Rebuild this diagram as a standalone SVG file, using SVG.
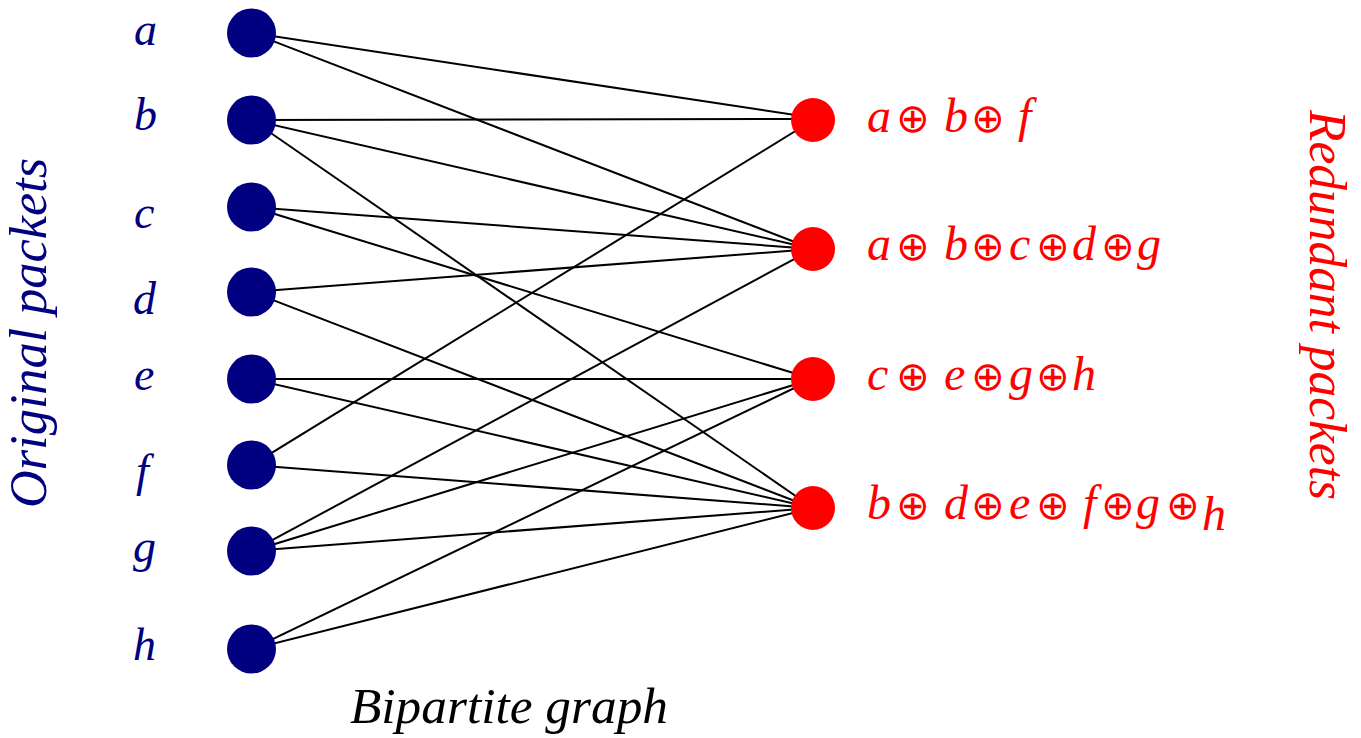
<svg xmlns="http://www.w3.org/2000/svg" width="1361" height="738" viewBox="0 0 1361 738">
<style>
.ln line{stroke:#000;stroke-width:2}
.orig{fill:#000080}
.red{fill:#ff0000}
</style>
<rect width="1361" height="738" fill="#fff"/>
<g id="connectors" class="ln">
<line x1="252" y1="33" x2="822" y2="119"/>
<line x1="252" y1="33" x2="813" y2="249"/>
<line x1="252" y1="120" x2="822" y2="119"/>
<line x1="252" y1="120" x2="813" y2="249"/>
<line x1="252" y1="120" x2="813" y2="508"/>
<line x1="252" y1="207" x2="813" y2="249"/>
<line x1="252" y1="207" x2="813" y2="379"/>
<line x1="252" y1="292" x2="813" y2="249"/>
<line x1="252" y1="292" x2="813" y2="508"/>
<line x1="252" y1="379" x2="813" y2="379"/>
<line x1="252" y1="379" x2="813" y2="508"/>
<line x1="252" y1="465" x2="815" y2="119"/>
<line x1="252" y1="465" x2="813" y2="508"/>
<line x1="252" y1="551" x2="813" y2="249"/>
<line x1="252" y1="551" x2="813" y2="379"/>
<line x1="252" y1="551" x2="813" y2="508"/>
<line x1="252" y1="649" x2="813" y2="379"/>
<line x1="252" y1="649" x2="813" y2="508"/>
</g>
<g id="node-a"><circle class="orig" cx="251.5" cy="33" r="24.5"/><text font-family="Liberation Serif" font-style="italic" font-size="46" fill="#000080" x="134" y="45">a</text></g>
<g id="node-b"><circle class="orig" cx="251.5" cy="120" r="24.5"/><text font-family="Liberation Serif" font-style="italic" font-size="46" fill="#000080" x="134" y="130">b</text></g>
<g id="node-c"><circle class="orig" cx="251.5" cy="207" r="24.5"/><text font-family="Liberation Serif" font-style="italic" font-size="46" fill="#000080" x="134" y="228">c</text></g>
<g id="node-d"><circle class="orig" cx="251.5" cy="292" r="24.5"/><text font-family="Liberation Serif" font-style="italic" font-size="46" fill="#000080" x="133" y="314">d</text></g>
<g id="node-e"><circle class="orig" cx="251.5" cy="379" r="24.5"/><text font-family="Liberation Serif" font-style="italic" font-size="46" fill="#000080" x="134" y="390">e</text></g>
<g id="node-f"><circle class="orig" cx="251.5" cy="465" r="24.5"/><text font-family="Liberation Serif" font-style="italic" font-size="46" fill="#000080" x="136" y="486">f</text></g>
<g id="node-g"><circle class="orig" cx="251.5" cy="551" r="24.5"/><text font-family="Liberation Serif" font-style="italic" font-size="46" fill="#000080" x="133" y="562">g</text></g>
<g id="node-h"><circle class="orig" cx="251.5" cy="649" r="24.5"/><text font-family="Liberation Serif" font-style="italic" font-size="46" fill="#000080" x="133" y="660">h</text></g>
<g id="node-r1"><circle class="red" cx="813" cy="120" r="22"/>
<text font-family="Liberation Serif" font-style="italic" font-size="48" fill="#ff0000" y="132"><tspan x="867">a</tspan><tspan x="896" font-family="DejaVu Sans" font-style="normal" font-size="40">⊕</tspan><tspan x="944">b</tspan><tspan x="971" font-family="DejaVu Sans" font-style="normal" font-size="40">⊕</tspan><tspan x="1018">f</tspan></text></g>
<g id="node-r2"><circle class="red" cx="813" cy="249" r="22"/>
<text font-family="Liberation Serif" font-style="italic" font-size="48" fill="#ff0000" y="260"><tspan x="867">a</tspan><tspan x="896" font-family="DejaVu Sans" font-style="normal" font-size="40">⊕</tspan><tspan x="944">b</tspan><tspan x="971" font-family="DejaVu Sans" font-style="normal" font-size="40">⊕</tspan><tspan x="1009">c</tspan><tspan x="1036" font-family="DejaVu Sans" font-style="normal" font-size="40">⊕</tspan><tspan x="1072">d</tspan><tspan x="1101" font-family="DejaVu Sans" font-style="normal" font-size="40">⊕</tspan><tspan x="1137">g</tspan></text></g>
<g id="node-r3"><circle class="red" cx="813" cy="379" r="22"/>
<text font-family="Liberation Serif" font-style="italic" font-size="48" fill="#ff0000" y="390"><tspan x="867">c</tspan><tspan x="896" font-family="DejaVu Sans" font-style="normal" font-size="40">⊕</tspan><tspan x="944">e</tspan><tspan x="971" font-family="DejaVu Sans" font-style="normal" font-size="40">⊕</tspan><tspan x="1009">g</tspan><tspan x="1036" font-family="DejaVu Sans" font-style="normal" font-size="40">⊕</tspan><tspan x="1072">h</tspan></text></g>
<g id="node-r4"><circle class="red" cx="813" cy="508" r="22"/>
<text font-family="Liberation Serif" font-style="italic" font-size="48" fill="#ff0000" y="519"><tspan x="867">b</tspan><tspan x="896" font-family="DejaVu Sans" font-style="normal" font-size="40">⊕</tspan><tspan x="944">d</tspan><tspan x="971" font-family="DejaVu Sans" font-style="normal" font-size="40">⊕</tspan><tspan x="1009">e</tspan><tspan x="1036" font-family="DejaVu Sans" font-style="normal" font-size="40">⊕</tspan><tspan x="1083">f</tspan><tspan x="1101" font-family="DejaVu Sans" font-style="normal" font-size="40">⊕</tspan><tspan x="1136">g</tspan><tspan x="1166" font-family="DejaVu Sans" font-style="normal" font-size="40">⊕</tspan><tspan x="1202" y="530">h</tspan></text></g>
<text font-family="Liberation Serif" font-style="italic" font-size="52" fill="#000080" transform="translate(46,508) rotate(-90)" textLength="350" lengthAdjust="spacingAndGlyphs">Original packets</text>
<text font-family="Liberation Serif" font-style="italic" font-size="52" fill="#ff0000" transform="translate(1310,110) rotate(90)" textLength="390" lengthAdjust="spacingAndGlyphs">Redundant packets</text>
<text font-family="Liberation Serif" font-style="italic" font-size="50" fill="#000000" x="350" y="723" textLength="318" lengthAdjust="spacingAndGlyphs">Bipartite graph</text>
</svg>
